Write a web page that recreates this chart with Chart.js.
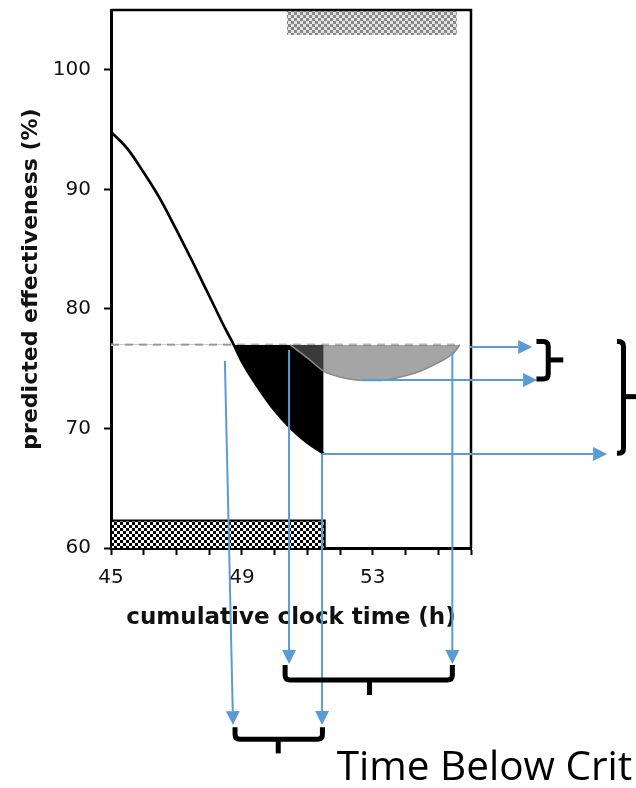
<!DOCTYPE html>
<html>
<head>
<meta charset="utf-8">
<script src="https://cdn.jsdelivr.net/npm/chart.js@4.4.1/dist/chart.umd.min.js"></script>
<style>
  html, body { margin: 0; padding: 0; background: #fff; }
  #wrap { width: 636px; height: 788px; }
</style>
</head>
<body>
<div id="wrap"><canvas id="chart" width="636" height="788"></canvas></div>
<script>
// predicted effectiveness (black curve)
var curveX = [45, 45.5, 46, 46.5, 47, 47.5, 48, 48.5, 48.75, 49, 49.5, 50, 50.5, 51, 51.5];
var curveY = [94.8, 93.4, 91.4, 89.2, 86.6, 83.9, 81.1, 78.3, 77.0, 75.6, 73.4, 71.5, 70.0, 68.8, 67.9];

// second curve (grey area)
var recoveryX = [50.47, 51, 51.5, 52, 52.5, 53, 53.5, 54, 54.5, 55, 55.5, 55.66];
var recoveryY = [77.0, 75.9, 74.8, 74.3, 74.05, 74.0, 74.1, 74.4, 74.85, 75.5, 76.4, 77.0];

// criterion line
var criterion = 77;
var criterionX = [45, 55.66];

// checkered bars
var lowBarX = [45, 51.53];
var lowBarY = [60, 62.3];
var highBarX = [50.37, 55.57];
var highBarY = [102.9, 105];

// axes
var xTicks = [45, 46, 47, 48, 49, 50, 51, 52, 53, 54, 55, 56];
var xLabels = [45, 49, 53];
var yTicks = [60, 70, 80, 90, 100];

// annotation arrows (data units), from -> to
var arrowFrom = [[48.48, 75.65], [50.44, 76.57], [51.45, 67.87], [55.43, 76.43], [55.97, 76.82], [52.70, 74.06], [51.45, 67.87]];
var arrowTo   = [[48.73, 45.19], [50.44, 50.29], [51.45, 45.19], [55.43, 50.29], [57.87, 76.82], [58.02, 74.06], [60.16, 67.87]];

// brackets under the chart: left, right, top, bottom, tickX, tickEnd
var bracketsDown = [[50.32, 55.43, 50.21, 48.95, 52.9, 47.7], [48.79, 51.46, 45.0, 44.0, 50.11, 42.82]];
// braces right of the chart: top, bottom, leftX, spineX, tickEndX, tickY
var bracesRight = [[77.27, 74.14, 58.0, 58.36, 58.82, 75.73], [77.27, 67.92, 60.46, 60.66, 61.05, 72.66]];

var noteText = 'Time Below Crit';
var notePos = [51.9, 40.6];

function checker(c1, c2, size) {
    var c = document.createElement('canvas');
    c.width = size * 2;
    c.height = size * 2;
    var g = c.getContext('2d');
    g.fillStyle = c2;
    g.fillRect(0, 0, size * 2, size * 2);
    g.fillStyle = c1;
    g.fillRect(0, 0, size, size);
    g.fillRect(size, size, size, size);
    return g.createPattern(c, 'repeat');
}

function pts(xs, ys) {
    return xs.map(function (x, i) { return { x: x, y: ys[i] }; });
}

function arrow(ctx, x1, y1, x2, y2) {
    var ang = Math.atan2(y2 - y1, x2 - x1);
    var head = 14, half = 7;
    var bx = x2 - head * Math.cos(ang), by = y2 - head * Math.sin(ang);
    ctx.beginPath();
    ctx.moveTo(x1, y1);
    ctx.lineTo(bx, by);
    ctx.stroke();
    ctx.beginPath();
    ctx.moveTo(x2, y2);
    ctx.lineTo(bx - half * Math.sin(ang), by + half * Math.cos(ang));
    ctx.lineTo(bx + half * Math.sin(ang), by - half * Math.cos(ang));
    ctx.closePath();
    ctx.fill();
}

var notes = {
    id: 'notes',
    afterDraw: function (chart) {
        var ctx = chart.ctx, a = chart.chartArea;
        var xs = chart.scales.x, ys = chart.scales.y;
        var X = function (v) { return xs.getPixelForValue(v); };
        var Y = function (v) { return ys.getPixelForValue(v); };
        ctx.save();
        // frame top / right
        ctx.strokeStyle = '#000';
        ctx.lineWidth = 2.5;
        ctx.beginPath();
        ctx.moveTo(a.left, a.top);
        ctx.lineTo(a.right, a.top);
        ctx.lineTo(a.right, a.bottom);
        ctx.stroke();

        // blue arrows
        ctx.strokeStyle = '#5b9bd5';
        ctx.fillStyle = '#5b9bd5';
        ctx.lineWidth = 2;
        arrowFrom.forEach(function (f, i) {
            var t = arrowTo[i];
            arrow(ctx, X(f[0]), Y(f[1]), X(t[0]), Y(t[1]));
        });

        // brackets
        ctx.strokeStyle = '#000';
        ctx.lineWidth = 5;
        ctx.lineJoin = 'round';
        bracketsDown.forEach(function (b) {
            var l = X(b[0]), r = X(b[1]), t = Y(b[2]), bt = Y(b[3]), rad = 5;
            ctx.beginPath();
            ctx.moveTo(l, t);
            ctx.lineTo(l, bt - rad);
            ctx.quadraticCurveTo(l, bt, l + rad, bt);
            ctx.lineTo(r - rad, bt);
            ctx.quadraticCurveTo(r, bt, r, bt - rad);
            ctx.lineTo(r, t);
            ctx.stroke();
            ctx.beginPath();
            ctx.moveTo(X(b[4]), bt);
            ctx.lineTo(X(b[4]), Y(b[5]));
            ctx.stroke();
        });
        bracesRight.forEach(function (b) {
            var t = Y(b[0]), bt = Y(b[1]), l = X(b[2]), s = X(b[3]), rad = 5;
            ctx.beginPath();
            ctx.moveTo(l, t);
            ctx.lineTo(s - rad, t);
            ctx.quadraticCurveTo(s, t, s, t + rad);
            ctx.lineTo(s, bt - rad);
            ctx.quadraticCurveTo(s, bt, s - rad, bt);
            ctx.lineTo(l, bt);
            ctx.stroke();
            ctx.beginPath();
            ctx.moveTo(s, Y(b[5]));
            ctx.lineTo(X(b[4]), Y(b[5]));
            ctx.stroke();
        });

        ctx.fillStyle = '#000';
        ctx.font = '40.5px "Open Sans"';
        ctx.textBaseline = 'alphabetic';
        ctx.fillText(noteText, X(notePos[0]), Y(notePos[1]));
        ctx.restore();
    }
};

Chart.defaults.font.family = 'DejaVu Sans';
Chart.defaults.color = '#111';

var ctx = document.getElementById('chart').getContext('2d');
var myChart = new Chart(ctx, {
    type: 'line',
    data: {
        datasets: [{
            // grey area
            data: pts(recoveryX, recoveryY),
            borderColor: '#8a8a8a',
            borderWidth: 1.5,
            pointRadius: 0,
            cubicInterpolationMode: 'monotone',
            fill: { target: { value: criterion }, above: 'rgba(0,0,0,0)', below: 'rgba(100,100,100,0.58)' }
        }, {
            // main curve, black below criterion
            data: pts(curveX, curveY),
            borderColor: '#000',
            borderWidth: 2.7,
            pointRadius: 0,
            cubicInterpolationMode: 'monotone',
            fill: { target: { value: criterion }, above: 'rgba(0,0,0,0)', below: '#000' }
        }, {
            data: pts(criterionX, [criterion, criterion]),
            borderColor: '#bbbbbb',
            borderWidth: 2.5,
            borderDash: [8, 6],
            pointRadius: 0,
            fill: false
        }, {
            data: pts(highBarX, [highBarY[0], highBarY[0]]),
            borderWidth: 0,
            pointRadius: 0,
            backgroundColor: checker('#8a8a8a', '#e2e2e2', 3),
            fill: 'end'
        }, {
            data: pts([lowBarX[0], lowBarX[0], lowBarX[1], lowBarX[1]], [lowBarY[0], lowBarY[1], lowBarY[1], lowBarY[0]]),
            borderColor: '#000',
            borderWidth: 2,
            pointRadius: 0,
            backgroundColor: checker('#000', '#fff', 3),
            fill: 'start'
        }]
    },
    options: {
        responsive: false,
        animation: false,
        layout: { padding: { left: 0, right: 165, top: 10, bottom: 150 } },
        plugins: { legend: { display: false }, tooltip: { enabled: false } },
        scales: {
            x: {
                type: 'linear',
                min: 45,
                max: 56,
                afterBuildTicks: function (s) { s.ticks = xTicks.map(function (v) { return { value: v }; }); },
                afterFit: function (s) { s.height = 90; s.paddingLeft = 0; s.paddingRight = 0; },
                ticks: {
                    padding: 11,
                    font: { size: 20 },
                    maxRotation: 0,
                    autoSkip: false,
                    callback: function (v) { return xLabels.indexOf(v) >= 0 ? String(v) : ''; }
                },
                grid: { drawOnChartArea: false, drawTicks: true, tickLength: 7, tickColor: '#000', tickWidth: 2 },
                border: { display: true, color: '#000', width: 3 },
                title: {
                    display: true,
                    text: 'cumulative clock time (h)',
                    color: '#111',
                    font: { size: 23, weight: 'bold' },
                    padding: { top: 0, bottom: 6 }
                }
            },
            y: {
                min: 60,
                max: 105,
                afterBuildTicks: function (s) { s.ticks = yTicks.map(function (v) { return { value: v }; }); },
                afterFit: function (s) { s.width = 111; s.paddingTop = 0; s.paddingBottom = 0; },
                ticks: { padding: 13, font: { size: 20 } },
                grid: { drawOnChartArea: false, drawTicks: true, tickLength: 7, tickColor: '#000', tickWidth: 2 },
                border: { display: true, color: '#000', width: 3 },
                title: {
                    display: true,
                    text: 'predicted effectiveness (%)',
                    color: '#111',
                    font: { size: 22, weight: 'bold' },
                    padding: { top: 18, bottom: 0 }
                }
            }
        }
    },
    plugins: [notes]
});
</script>
</body>
</html>
